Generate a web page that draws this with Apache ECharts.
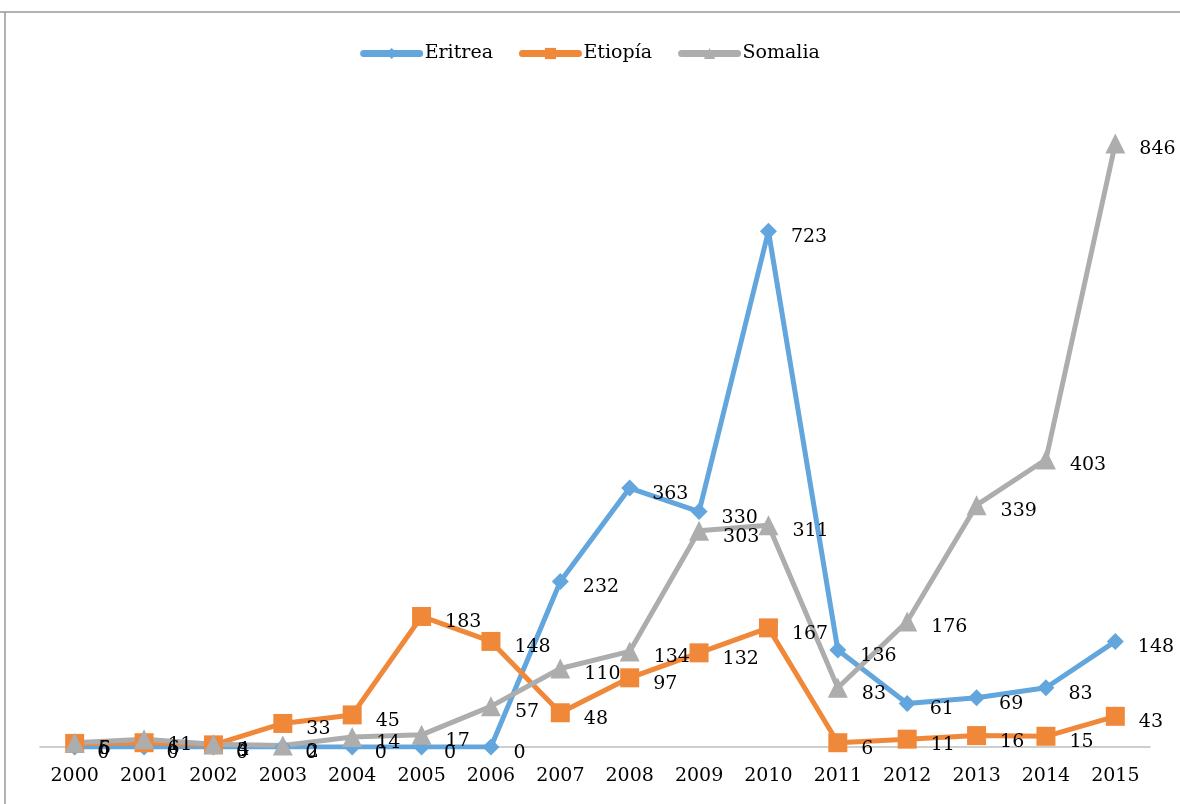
<!DOCTYPE html>
<html>
<head>
<meta charset="utf-8">
<script src="https://cdn.jsdelivr.net/npm/echarts@6/dist/echarts.min.js"></script>
<style>html,body{margin:0;padding:0;background:#fff}#c{width:1180px;height:804px}</style>
</head>
<body>
<div id="c"></div>
<script>
const years = ['2000','2001','2002','2003','2004','2005','2006','2007','2008','2009','2010','2011','2012','2013','2014','2015'];
const eritrea = [0,0,0,0,0,0,0,232,363,330,723,136,61,69,83,148];
const etiopia = [5,6,3,33,45,183,148,48,97,132,167,6,11,16,15,43];
const somalia = [6,11,4,2,14,17,57,110,134,303,311,83,176,339,403,846];

const chart = echarts.init(document.getElementById('c'));
const font = 'DejaVu Serif';
function mk(name, data, color, symbol, size) {
  return {
    name, type: 'line', data, symbol, symbolSize: size,
    lineStyle: {width: 5, color},
    itemStyle: {color},
    label: {show: true, position: 'right', distance: 14, color: '#000', fontFamily: font, fontSize: 19, offset:[0,6]},
    animation: false
  };
}
chart.setOption({
  animation: false,
  graphic: [
    {type: 'line', shape: {x1: 0, y1: 12, x2: 1180, y2: 12}, style: {stroke: '#999', lineWidth: 1.5}, silent: true},
    {type: 'line', shape: {x1: 5, y1: 12, x2: 5, y2: 804}, style: {stroke: '#999', lineWidth: 1.5}, silent: true}
  ],
  legend: {
    top: 39, left: 'center', itemWidth: 56, itemHeight: 14, itemGap: 26,
    lineStyle: {width: 7, cap: 'round'},
    textStyle: {fontFamily: font, fontSize: 19, color: '#000'},
    data: ['Eritrea','Etiopía','Somalia']
  },
  grid: {left: 40, right: 30, top: 105, bottom: 57},
  xAxis: {
    type: 'category', data: years, boundaryGap: true,
    axisLine: {lineStyle: {color: '#bfbfbf', width: 1.5}},
    axisTick: {show: false},
    axisLabel: {fontFamily: font, fontSize: 19, color: '#000', margin: 20}
  },
  yAxis: {type: 'value', min: 0, max: 900, show: false, splitLine: {show: false}},
  series: [
    mk('Eritrea', eritrea, '#62a6dd', 'diamond', 17),
    mk('Etiopía', etiopia, '#f0883a', 'rect', 19),
    mk('Somalia', somalia, '#adadad', 'triangle', 20)
  ]
});
</script>
</body>
</html>
